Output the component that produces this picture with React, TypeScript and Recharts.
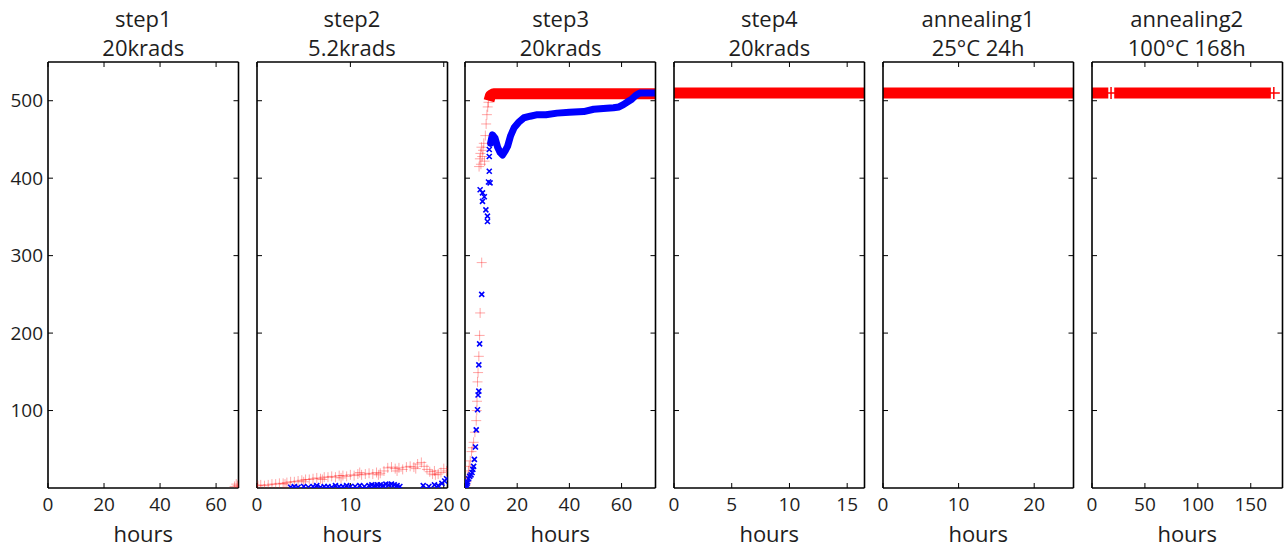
import React from 'react';
import { ComposedChart, Scatter, Line, XAxis, YAxis } from 'recharts';

type Pt = { h: number; v: number | null };

const Y_TICKS = [100, 200, 300, 400, 500];
const Y_MAX = 550;

const TITLES = [
  ['step1', '20krads'],
  ['step2', '5.2krads'],
  ['step3', '20krads'],
  ['step4', '20krads'],
  ['annealing1', '25°C 24h'],
  ['annealing2', '100°C 168h'],
];
const X_MAX = [68, 20.4, 73, 16.5, 25.2, 180];
const X_TICKS = [
  [0, 20, 40, 60],
  [0, 10, 20],
  [0, 20, 40, 60],
  [0, 5, 10, 15],
  [0, 10, 20],
  [0, 50, 100, 150],
];

const step1Red: Pt[] = [
  { h: 66.6, v: 2 }, { h: 67.2, v: 5 }, { h: 67.7, v: 3 },
];

const step2Red: Pt[] = [
  { h: 0.1, v: 3 }, { h: 0.4, v: 4 }, { h: 0.8, v: 3 }, { h: 1.2, v: 4 }, { h: 1.6, v: 5 },
  { h: 2.0, v: 5 }, { h: 2.4, v: 6 }, { h: 2.8, v: 6 }, { h: 3.2, v: 7 }, { h: 3.6, v: 8 },
  { h: 4.0, v: 8 }, { h: 4.4, v: 9 }, { h: 4.8, v: 10 }, { h: 5.2, v: 11 }, { h: 5.6, v: 11 },
  { h: 6.0, v: 12 }, { h: 6.4, v: 13 }, { h: 6.8, v: 12 }, { h: 7.2, v: 14 }, { h: 7.6, v: 14 },
  { h: 8.0, v: 15 }, { h: 8.4, v: 14 }, { h: 8.8, v: 16 }, { h: 9.2, v: 16 }, { h: 9.6, v: 15 },
  { h: 10.0, v: 17 }, { h: 10.4, v: 16 }, { h: 10.8, v: 18 }, { h: 11.2, v: 17 }, { h: 11.6, v: 18 },
  { h: 12.0, v: 19 }, { h: 12.4, v: 18 }, { h: 12.8, v: 20 }, { h: 13.2, v: 19 }, { h: 13.6, v: 22 },
  { h: 14.0, v: 26 }, { h: 14.4, v: 27 }, { h: 14.8, v: 25 }, { h: 15.2, v: 26 }, { h: 15.6, v: 24 },
  { h: 16.0, v: 27 }, { h: 16.4, v: 28 }, { h: 16.8, v: 27 }, { h: 17.2, v: 31 }, { h: 17.6, v: 33 },
  { h: 17.9, v: 28 }, { h: 18.2, v: 24 }, { h: 18.5, v: 21 }, { h: 18.8, v: 18 }, { h: 19.1, v: 17 },
  { h: 19.4, v: 18 }, { h: 19.7, v: 20 }, { h: 20.0, v: 25 }, { h: 20.3, v: 22 },
  { h: 3.0, v: 5 }, { h: 5.0, v: 8 }, { h: 7.0, v: 11 }, { h: 9.0, v: 13 }, { h: 11.0, v: 20 },
  { h: 13.0, v: 17 }, { h: 15.0, v: 22 }, { h: 17.0, v: 25 }, { h: 19.0, v: 22 },
];

const step2Blue: Pt[] = [
  { h: 3.6, v: 1 }, { h: 4.0, v: 2 }, { h: 4.4, v: 1 }, { h: 5.0, v: 2 }, { h: 5.5, v: 1 },
  { h: 6.0, v: 2 }, { h: 6.4, v: 3 }, { h: 6.8, v: 1 }, { h: 7.2, v: 2 }, { h: 7.6, v: 2 },
  { h: 8.0, v: 1 }, { h: 8.4, v: 3 }, { h: 8.8, v: 2 }, { h: 9.2, v: 2 }, { h: 9.6, v: 3 },
  { h: 10.0, v: 2 }, { h: 10.5, v: 2 }, { h: 11.0, v: 3 }, { h: 11.5, v: 2 }, { h: 12.0, v: 3 },
  { h: 12.3, v: 4 }, { h: 12.6, v: 3 }, { h: 12.9, v: 4 }, { h: 13.2, v: 4 }, { h: 13.5, v: 3 },
  { h: 13.8, v: 5 }, { h: 14.1, v: 4 }, { h: 14.4, v: 5 }, { h: 14.7, v: 4 }, { h: 15.0, v: 3 },
  { h: 15.3, v: 2 }, { h: 17.8, v: 3 }, { h: 18.4, v: 2 }, { h: 19.0, v: 4 }, { h: 19.4, v: 3 },
  { h: 19.8, v: 6 }, { h: 20.1, v: 9 }, { h: 20.3, v: 12 },
];

const step3Red: Pt[] = [
  { h: 0.3, v: 4 }, { h: 0.6, v: 8 }, { h: 0.9, v: 14 }, { h: 1.3, v: 22 }, { h: 1.6, v: 28 },
  { h: 2.0, v: 35 }, { h: 2.5, v: 47 }, { h: 3.0, v: 52 }, { h: 3.3, v: 59 }, { h: 3.8, v: 72 },
  { h: 4.3, v: 87 }, { h: 4.5, v: 100 }, { h: 4.6, v: 112 }, { h: 4.8, v: 137 }, { h: 5.0, v: 149 },
  { h: 5.3, v: 170 }, { h: 5.6, v: 197 }, { h: 5.8, v: 226 }, { h: 6.4, v: 291 },
  { h: 5.4, v: 415 }, { h: 5.7, v: 425 }, { h: 5.9, v: 432 }, { h: 6.1, v: 418 }, { h: 6.3, v: 440 },
  { h: 6.6, v: 428 }, { h: 6.9, v: 436 }, { h: 7.2, v: 445 }, { h: 7.5, v: 422 }, { h: 7.8, v: 455 },
  { h: 8.1, v: 470 }, { h: 8.4, v: 482 }, { h: 8.7, v: 492 }, { h: 9.0, v: 498 },
];

const step3Blue: Pt[] = [
  { h: 0.3, v: 2 }, { h: 0.5, v: 4 }, { h: 0.8, v: 6 }, { h: 1.0, v: 8 }, { h: 1.4, v: 12 },
  { h: 1.8, v: 15 }, { h: 2.3, v: 17 }, { h: 2.7, v: 20 }, { h: 3.0, v: 24 }, { h: 3.3, v: 28 },
  { h: 3.6, v: 37 }, { h: 4.0, v: 53 }, { h: 4.3, v: 75 }, { h: 4.8, v: 101 }, { h: 5.0, v: 120 },
  { h: 5.3, v: 125 }, { h: 5.3, v: 159 }, { h: 5.6, v: 186 }, { h: 6.4, v: 250 },
  { h: 5.8, v: 385 }, { h: 6.7, v: 381 }, { h: 6.7, v: 370 }, { h: 7.4, v: 376 }, { h: 8.0, v: 359 },
  { h: 8.6, v: 351 }, { h: 8.6, v: 344 }, { h: 9.0, v: 395 }, { h: 9.3, v: 409 }, { h: 9.3, v: 428 },
  { h: 9.3, v: 437 }, { h: 9.6, v: 394 },
];

const step3BlueBand: Pt[] = [
  { h: 9.8, v: 445 }, { h: 10.5, v: 456 }, { h: 11.5, v: 452 }, { h: 12.5, v: 440 }, { h: 13.5, v: 433 },
  { h: 14.4, v: 430 }, { h: 15.5, v: 436 }, { h: 16.3, v: 441 }, { h: 17.5, v: 455 }, { h: 18.8, v: 465 },
  { h: 20.5, v: 472 }, { h: 22.6, v: 478 }, { h: 25, v: 480 }, { h: 27.7, v: 482 }, { h: 31, v: 482 },
  { h: 35.3, v: 484 }, { h: 40, v: 485 }, { h: 45.5, v: 486 }, { h: 49.3, v: 489 }, { h: 53, v: 490 },
  { h: 56.9, v: 491 }, { h: 59, v: 492 }, { h: 60.7, v: 495 }, { h: 62.5, v: 499 }, { h: 63.9, v: 502 },
  { h: 65.5, v: 507 }, { h: 67, v: 510 }, { h: 70, v: 510 }, { h: 73, v: 510 },
];

const step3RedBand: Pt[] = [
  { h: 9.2, v: 500 }, { h: 9.8, v: 507 }, { h: 11, v: 509 }, { h: 20, v: 509 }, { h: 40, v: 509 },
  { h: 60, v: 509 }, { h: 73, v: 509 },
];

const step4RedBand: Pt[] = [
  { h: 0, v: 510 }, { h: 5, v: 510 }, { h: 10, v: 510 }, { h: 16.5, v: 510 },
];

const anneal1RedBand: Pt[] = [
  { h: 0, v: 510 }, { h: 10, v: 510 }, { h: 20, v: 510 }, { h: 25.2, v: 510 },
];

const anneal2RedBand: Pt[] = [
  { h: 0, v: 510 }, { h: 15.4, v: 510 }, { h: 18, v: null }, { h: 21, v: 510 },
  { h: 100, v: 510 }, { h: 169, v: 510 },
];
const anneal2RedPoints: Pt[] = [{ h: 18, v: 510 }, { h: 171.8, v: 510 }];

const PLOT_TOP = 62;
const PLOT_BOTTOM = 488;
const PLOT_W = 190.5;
const PLOT_STEP = 208.7;
const FIRST_LEFT = 48;

const TEXT = '#1e1e1e';
const FONT = "'Open Sans', 'DejaVu Sans', sans-serif";

const LightPlus = (p: any) => {
  const { cx, cy } = p;
  if (cx == null || cy == null) return <g />;
  return (
    <path d={`M${cx - 5},${cy}H${cx + 5}M${cx},${cy - 5}V${cy + 5}`} stroke="#ff0000" strokeOpacity={0.35} strokeWidth={1} fill="none" />
  );
};
const SolidPlus = (p: any) => {
  const { cx, cy } = p;
  if (cx == null || cy == null) return <g />;
  return (
    <path d={`M${cx - 6},${cy}H${cx + 6}M${cx},${cy - 6}V${cy + 6}`} stroke="#ff0000" strokeWidth={1.5} fill="none" />
  );
};
const BlueCross = (p: any) => {
  const { cx, cy } = p;
  if (cx == null || cy == null) return <g />;
  const s = 2.5;
  return (
    <path d={`M${cx - s},${cy - s}L${cx + s},${cy + s}M${cx - s},${cy + s}L${cx + s},${cy - s}`} stroke="#0000ff" strokeWidth={1.6} fill="none" />
  );
};
const EmptyTick = () => <g />;

type PanelProps = {
  index: number;
  redPts?: Pt[];
  bluePts?: Pt[];
  redBand?: Pt[];
  blueBand?: Pt[];
  solidPts?: Pt[];
};

const AXIS_LINE = { stroke: '#000', strokeWidth: 1.6 };
const TICK_LINE = { stroke: '#000', strokeWidth: 1 };

function Panel({ index, redPts, bluePts, redBand, blueBand, solidPts }: PanelProps) {
  const plotLeft = FIRST_LEFT + index * PLOT_STEP;
  const lp = index === 0 ? 48 : 16;
  const rp = 16;
  const width = lp + PLOT_W + rp;
  const xDomain: [number, number] = [0, X_MAX[index]];
  const tickStyle = { fontSize: 19, fill: TEXT, fontFamily: FONT };
  return (
    <div style={{ position: 'absolute', left: plotLeft - lp, top: 0 }}>
      <ComposedChart width={width} height={548} margin={{ top: PLOT_TOP - 1, right: rp - 1, bottom: 0, left: 0 }}>
        <XAxis
          xAxisId={0}
          dataKey="h"
          type="number"
          orientation="bottom"
          domain={xDomain}
          allowDataOverflow
          ticks={X_TICKS[index]}
          interval={0}
          height={548 - PLOT_BOTTOM}
          tickSize={-5}
          tickMargin={15}
          axisLine={AXIS_LINE}
          tickLine={TICK_LINE}
          tick={tickStyle}
          label={{ value: 'hours', position: 'insideBottom', offset: 6, fontSize: 22, fill: TEXT, fontFamily: FONT }}
        />
        <XAxis
          xAxisId="top"
          dataKey="h"
          type="number"
          orientation="top"
          domain={xDomain}
          allowDataOverflow
          ticks={X_TICKS[index]}
          interval={0}
          height={1}
          tickSize={-5}
          axisLine={AXIS_LINE}
          tickLine={TICK_LINE}
          tick={EmptyTick}
        />
        <YAxis
          yAxisId={0}
          dataKey="v"
          type="number"
          orientation="left"
          domain={[0, Y_MAX]}
          allowDataOverflow
          ticks={Y_TICKS}
          interval={0}
          width={lp}
          tickSize={-5}
          tickMargin={10}
          axisLine={AXIS_LINE}
          tickLine={TICK_LINE}
          tick={index === 0 ? tickStyle : EmptyTick}
        />
        <YAxis
          yAxisId="right"
          dataKey="v"
          type="number"
          orientation="right"
          domain={[0, Y_MAX]}
          allowDataOverflow
          ticks={Y_TICKS}
          interval={0}
          width={1}
          tickSize={-5}
          axisLine={AXIS_LINE}
          tickLine={TICK_LINE}
          tick={EmptyTick}
        />
        {redPts && (
          <Scatter data={redPts} dataKey="v" shape={LightPlus} isAnimationActive={false} />
        )}
        {redBand && (
          <Line data={redBand} dataKey="v" type="linear" stroke="#ff0000" strokeWidth={11} dot={false} activeDot={false} isAnimationActive={false} strokeLinecap="butt" strokeLinejoin="round" />
        )}
        {solidPts && (
          <Scatter data={solidPts} dataKey="v" shape={SolidPlus} isAnimationActive={false} />
        )}
        {bluePts && (
          <Scatter data={bluePts} dataKey="v" shape={BlueCross} isAnimationActive={false} />
        )}
        {blueBand && (
          <Line data={blueBand} dataKey="v" type="linear" stroke="#0000ff" strokeWidth={7} dot={false} activeDot={false} isAnimationActive={false} strokeLinecap="round" strokeLinejoin="round" />
        )}
      </ComposedChart>
    </div>
  );
}

function Title({ index }: { index: number }) {
  const cx = FIRST_LEFT + index * PLOT_STEP + PLOT_W / 2;
  return (
    <div
      style={{
        position: 'absolute',
        left: cx - 100,
        width: 200,
        top: 4,
        textAlign: 'center',
        fontFamily: FONT,
        fontSize: 22,
        lineHeight: '29px',
        color: TEXT,
      }}
    >
      <div>{TITLES[index][0]}</div>
      <div>{TITLES[index][1]}</div>
    </div>
  );
}

export default function App() {
  return (
    <div style={{ position: 'absolute', left: 0, top: 0, width: 1285, height: 548, background: '#fff', fontFamily: FONT }}>
      {TITLES.map((_, i) => (
        <Title key={i} index={i} />
      ))}
      <Panel index={0} redPts={step1Red} />
      <Panel index={1} redPts={step2Red} bluePts={step2Blue} />
      <Panel index={2} redPts={step3Red} redBand={step3RedBand} bluePts={step3Blue} blueBand={step3BlueBand} />
      <Panel index={3} redBand={step4RedBand} />
      <Panel index={4} redBand={anneal1RedBand} />
      <Panel index={5} redBand={anneal2RedBand} solidPts={anneal2RedPoints} />
    </div>
  );
}
